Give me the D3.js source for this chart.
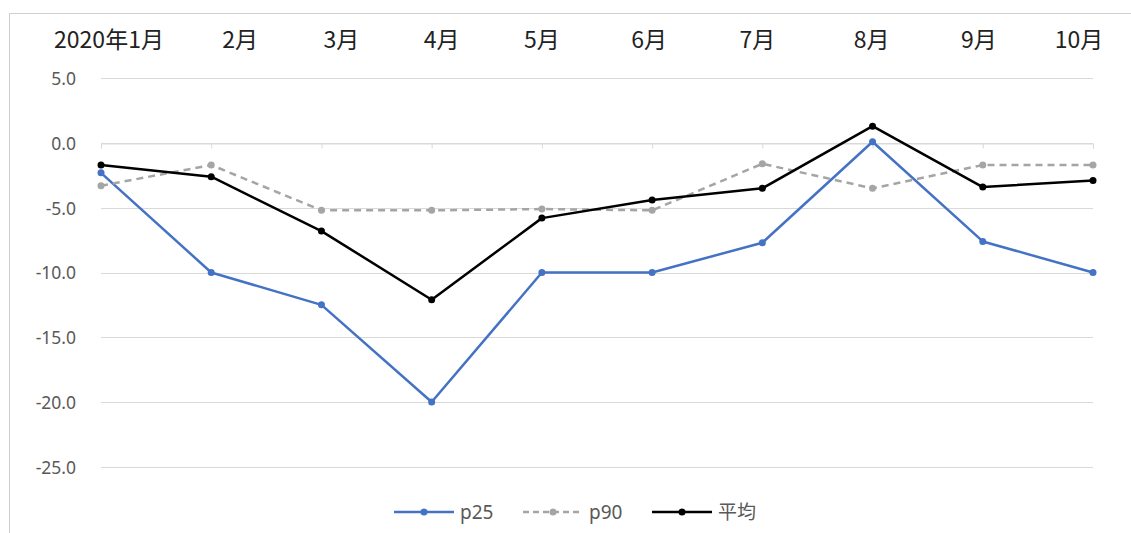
<!DOCTYPE html>
<html>
<head>
<meta charset="utf-8">
<script src="https://cdn.jsdelivr.net/npm/d3@7"></script>
<style>
  html, body { margin: 0; padding: 0; background: #fff; }
  svg { display: block; }
</style>
</head>
<body>
<svg id="chart" width="1131" height="533"></svg>
<script>
// Monthly categories
const months = ["2020年1月", "2月", "3月", "4月", "5月", "6月", "7月", "8月", "9月", "10月"];

// Series values
const p25  = [-2.3, -10.0, -12.5, -20.0, -10.0, -10.0, -7.7, 0.1, -7.6, -10.0];
const p90  = [-3.3, -1.7, -5.2, -5.2, -5.1, -5.2, -1.6, -3.5, -1.7, -1.7];
const avg  = [-1.7, -2.6, -6.8, -12.1, -5.8, -4.4, -3.5, 1.3, -3.4, -2.9];

// Value axis ticks
const yTicks = [5, 0, -5, -10, -15, -20, -25];

const seriesNames = ["p25", "p90", "平均"];

const series = [
  { name: seriesNames[0], values: p25, color: "#4472C4", dash: null },
  { name: seriesNames[1], values: p90, color: "#A5A5A5", dash: "7,5" },
  { name: seriesNames[2], values: avg, color: "#000000", dash: null }
];

const svg = d3.select("#chart");

// Chart frame (top and left edges visible)
svg.append("rect")
  .attr("x", 9.5).attr("y", 13.5)
  .attr("width", 1140).attr("height", 540)
  .attr("fill", "#fff")
  .attr("stroke", "#d0d0d0")
  .attr("stroke-width", 1);

const x = d3.scalePoint().domain(months).range([101, 1093]);
const y = d3.scaleLinear().domain([-25, 5]).range([466.7, 78.3]);

// Horizontal gridlines
svg.append("g")
  .selectAll("line")
  .data(yTicks)
  .join("line")
  .attr("x1", 101).attr("x2", 1093)
  .attr("y1", d => Math.round(y(d)) + 0.5)
  .attr("y2", d => Math.round(y(d)) + 0.5)
  .attr("stroke", "#d9d9d9")
  .attr("stroke-width", 1);

// Value axis labels
const yAxis = d3.axisLeft(y)
  .tickValues(yTicks)
  .tickFormat(d3.format(".1f"))
  .tickSize(0)
  .tickPadding(0);

const yg = svg.append("g")
  .attr("transform", "translate(76,0)")
  .call(yAxis);
yg.select(".domain").remove();
yg.selectAll("text")
  .attr("fill", "#595959")
  .attr("font-family", "'Noto Sans', sans-serif")
  .attr("font-size", 17.5)
  .attr("dy", "0.36em")
  .text(d => d3.format(".1f")(d).replace("−", "-"));

// Category tick marks on the zero line
const xAxis = d3.axisBottom(x).tickSize(5).tickFormat("");
const xg = svg.append("g")
  .attr("transform", `translate(0,${Math.round(y(0)) + 0.5})`)
  .call(xAxis);
xg.select(".domain")
  .attr("stroke", "#d9d9d9");
xg.selectAll(".tick line").attr("stroke", "#d9d9d9");

// Category labels across the top
const labelNudge = [8, 29, 20, 10, 0, -3, -5, -1, -4, -14];
svg.append("g")
  .selectAll("text")
  .data(months)
  .join("text")
  .attr("x", (d, i) => x(d) + labelNudge[i])
  .attr("y", 48)
  .attr("text-anchor", "middle")
  .attr("fill", "#222")
  .attr("font-family", "'Noto Sans CJK JP', sans-serif")
  .attr("font-size", 23)
  .text(d => d);

// Lines and markers
const line = d3.line()
  .x((d, i) => x(months[i]))
  .y(d => y(d));

const sg = svg.append("g")
  .selectAll("g")
  .data(series)
  .join("g");

sg.append("path")
  .attr("d", s => line(s.values))
  .attr("fill", "none")
  .attr("stroke", s => s.color)
  .attr("stroke-width", 2.5)
  .attr("stroke-linejoin", "round")
  .attr("stroke-dasharray", s => s.dash);

sg.selectAll("circle")
  .data(s => s.values.map((v, i) => ({ v, i, color: s.color })))
  .join("circle")
  .attr("cx", d => x(months[d.i]))
  .attr("cy", d => y(d.v))
  .attr("r", 3.5)
  .attr("fill", d => d.color);

// Legend
const legendX = [394, 523, 652];
const lg = svg.append("g")
  .selectAll("g")
  .data(series)
  .join("g")
  .attr("transform", (d, i) => `translate(${legendX[i]},512)`);

lg.append("line")
  .attr("x1", 0).attr("x2", 60)
  .attr("y1", 0).attr("y2", 0)
  .attr("stroke", d => d.color)
  .attr("stroke-width", 2.5)
  .attr("stroke-dasharray", d => d.dash ? "6,4" : null);

lg.append("circle")
  .attr("cx", 30).attr("cy", 0).attr("r", 3.5)
  .attr("fill", d => d.color);

lg.append("text")
  .attr("x", 66)
  .attr("y", 0)
  .attr("dy", "0.36em")
  .attr("fill", "#595959")
  .attr("font-family", "'Noto Sans', 'Noto Sans CJK JP', sans-serif")
  .attr("font-size", 19)
  .text(d => d.name);
</script>
</body>
</html>
